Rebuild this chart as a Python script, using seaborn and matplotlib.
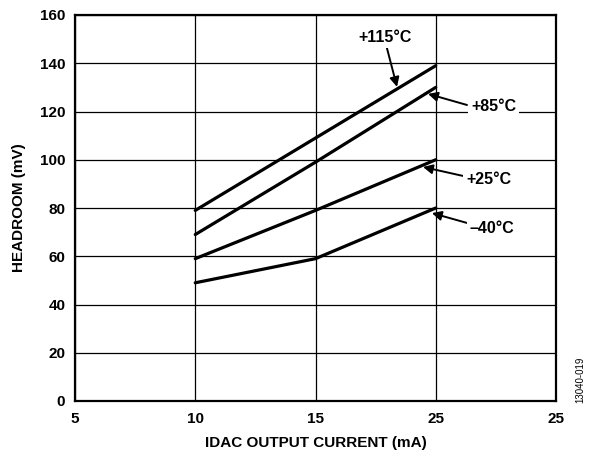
import matplotlib
matplotlib.use("Agg")
import matplotlib.pyplot as plt
import seaborn as sns
import pandas as pd

# Data
current_ma = [10, 15, 20]
temps = ["+115°C", "+85°C", "+25°C", "–40°C"]
headroom_115 = [79, 109, 139]
headroom_85 = [69, 99, 130]
headroom_25 = [59, 79, 100]
headroom_m40 = [49, 59, 80]
x_tick_pos = [5, 10, 15, 20, 25]
x_tick_labels = ["5", "10", "15", "25", "25"]
y_ticks = [0, 20, 40, 60, 80, 100, 120, 140, 160]

rows = []
for t, vals in zip(temps, [headroom_115, headroom_85, headroom_25, headroom_m40]):
    for x, v in zip(current_ma, vals):
        rows.append({"current": x, "headroom": v, "temp": t})
df = pd.DataFrame(rows)

sns.set_theme(style="white")
plt.rcParams["font.family"] = ["Liberation Sans", "DejaVu Sans"]

fig = plt.figure(figsize=(5.92, 4.5), dpi=100)
ax = fig.add_axes([75 / 592, 1 - 401 / 450, (556 - 75) / 592, (401 - 15) / 450])

sns.lineplot(data=df, x="current", y="headroom", units="temp", estimator=None,
             color="black", linewidth=2.3, ax=ax, legend=False, zorder=3)

ax.set_xlim(5, 25)
ax.set_ylim(0, 160)
ax.set_xticks(x_tick_pos)
ax.set_xticklabels(x_tick_labels)
ax.set_yticks(y_ticks)
ax.grid(True, color="black", linewidth=0.9, zorder=1)
ax.set_axisbelow(True)
for s in ax.spines.values():
    s.set_color("black")
    s.set_linewidth(1.6)
    s.set_visible(True)
ax.tick_params(axis="x", length=0, labelsize=11, colors="black", pad=8)
ax.tick_params(axis="y", length=0, labelsize=11, colors="black", pad=7)
for lbl in ax.get_xticklabels() + ax.get_yticklabels():
    lbl.set_fontweight("bold")
ax.set_xlabel("IDAC OUTPUT CURRENT (mA)", fontsize=11, fontweight="bold", color="black", labelpad=7)
ax.set_ylabel("HEADROOM (mV)", fontsize=11, fontweight="bold", color="black", labelpad=10)

arrow_kw = dict(arrowstyle="-|>", color="black", lw=1.4, mutation_scale=14, shrinkA=0, shrinkB=0)
annots = [
    ("+115°C", (18.39, 130.2), (17.9, 150.5), (17.97, 146.3)),
    ("+85°C", (19.68, 127.3), (22.4, 121.9), (21.30, 122.7)),
    ("+25°C", (19.47, 97.0), (22.2, 92.0), (21.13, 93.3)),
    ("–40°C", (19.84, 77.9), (22.35, 71.7), (21.30, 73.8)),
]
for label, tip, txt, tail in annots:
    ax.annotate("", xy=tip, xytext=tail, arrowprops=arrow_kw, zorder=4)
    ax.text(txt[0], txt[1], label, fontsize=11.5, fontweight="bold", ha="center", va="center",
            color="black", zorder=5,
            bbox=dict(facecolor="white", edgecolor="none", pad=2))

fig.text(580 / 592, 1 - 380 / 450, "13040-019", rotation=90, fontsize=7,
         ha="center", va="center", color="black")

fig.savefig("out.png", dpi=100)
